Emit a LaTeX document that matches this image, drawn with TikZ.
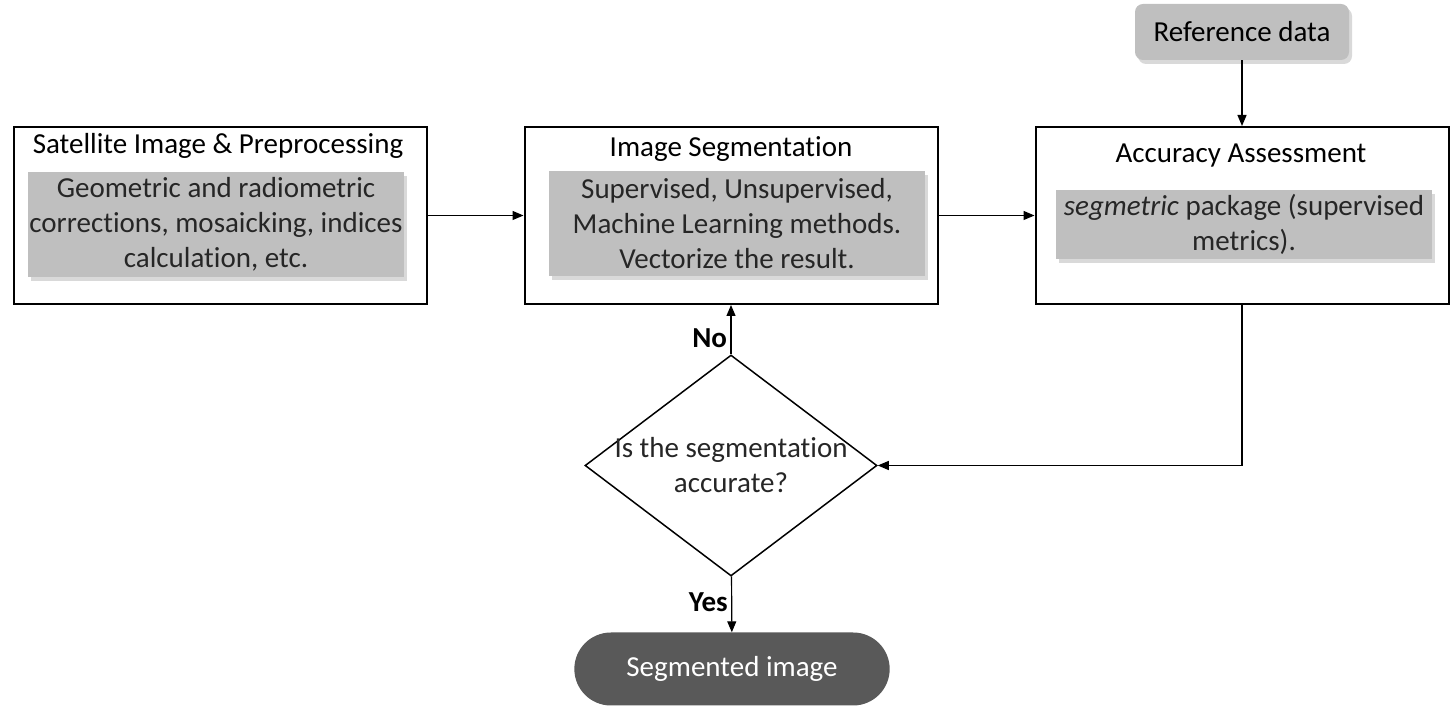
\documentclass[tikz,border=0pt]{standalone}
\usepackage{fontspec}
\setmainfont{Carlito}[RawFeature=-liga]
\usepackage{tikz}
\usetikzlibrary{positioning,shapes.geometric,shapes.misc,shadows,arrows.meta}
\definecolor{boxgray}{HTML}{BFBFBF}
\definecolor{pillgray}{HTML}{595959}
\definecolor{txtgray}{HTML}{262626}

\begin{document}
\begin{tikzpicture}[x=1pt, y=1pt,
		every node/.style={font=\fontsize{29}{35}\selectfont},
		stage/.style={draw, line width=2pt, minimum width=413pt, minimum height=177pt, inner sep=0pt},
		detail/.style={fill=boxgray, text=txtgray, align=center, minimum width=376pt, inner sep=0pt,
			drop shadow={opacity=0.3, shadow xshift=3pt, shadow yshift=-4pt}},
		flow/.style={-{Triangle[length=11pt,width=9pt]}, line width=1.2pt}]
		\useasboundingbox (0,0) rectangle (1450,706);
		% three stages
		\node(sat) [stage] at (220,490.5) {};
		\node(seg) [stage, right=96pt of sat] {};
		\node(acc) [stage, right=96pt of seg] {};
		\node(sattitle) at (218,560) {Satellite Image \& Preprocessing};
		\node(segtitle) at (731,557) {Image Segmentation};
		\node(acctitle) at (1241,550) {Accuracy Assessment};
		\node(satinfo) [detail, minimum height=105pt] at (216,481.5)
			{Geometric and radiometric\\corrections, mosaicking, indices\\calculation, etc.};
		\node(seginfo) [detail, minimum height=105pt] at (737,482.5)
			{Supervised, Unsupervised,\\Machine Learning methods.\\Vectorize the result.};
		\node(accinfo) [detail, minimum height=69pt] at (1244,481.5)
			{\textit{segmetric} package (supervised\\metrics).};
		\node(ref) [fill=boxgray, rounded corners=8pt, minimum width=214pt, minimum height=56pt,
			drop shadow={opacity=0.3, shadow xshift=3pt, shadow yshift=-4pt}] at (1242,674) {Reference data};
		% decision and result
		\node(q) [shape=diamond, draw, line width=1.5pt, shape aspect=1.32, minimum width=292pt,
			minimum height=221pt, inner xsep=-14pt, inner ysep=-6pt, align=center, text=txtgray]
			at (731,240.5) {Is the segmentation\\accurate?};
		\node(out) [shape=rounded rectangle, fill=pillgray, text=white, minimum width=322pt,
			minimum height=73pt] at (732,37) {Segmented image};
		\path[flow]
			(sat) edge (seg)
			(seg) edge (acc)
			(ref) edge (acc)
			(q)   edge node [pos=0.33, left, font=\fontsize{29}{35}\selectfont\bfseries] {No}  (seg)
			(q)   edge node [pos=0.47, left, font=\fontsize{29}{35}\selectfont\bfseries] {Yes} (out);
		\draw[flow] (acc.south) |- (q.east);
	\end{tikzpicture}
\end{document}
